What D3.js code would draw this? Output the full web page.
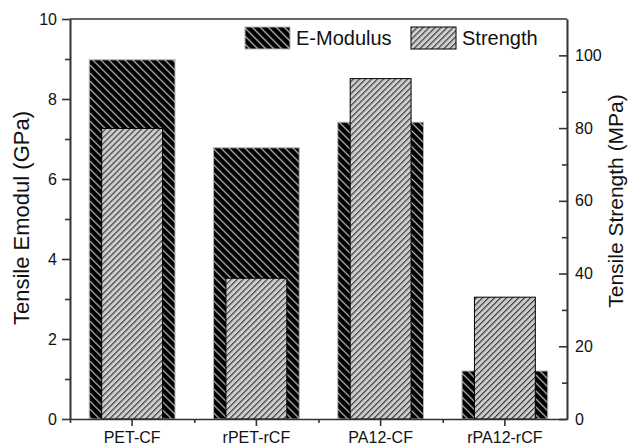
<!DOCTYPE html>
<html><head><meta charset="utf-8">
<script src="https://cdn.jsdelivr.net/npm/d3@7"></script>
<style>
html,body{margin:0;padding:0;background:#fff;}
svg{display:block;font-family:"Liberation Sans",Arial,sans-serif;}
</style></head>
<body><svg id="c" width="630" height="448"></svg>
<script>
const categories = ["PET-CF","rPET-rCF","PA12-CF","rPA12-rCF"];
const emodulus = [8.98, 6.78, 7.42, 1.2];
const strength = [79.9, 38.7, 93.6, 33.5];
const leftTicks = [0,2,4,6,8,10];
const leftMinor = [1,3,5,7,9];
const rightTicks = [0,20,40,60,80,100];
const rightMinor = [10,30,50,70,90];
const seriesNames = ["E-Modulus","Strength"];

const svg = d3.select("#c");
const L=70, R=567, T=19, B=419;
const x = d3.scaleBand().domain(categories).range([L,R]).padding(0);
const yL = d3.scaleLinear().domain([0,10]).range([B,T]);
const yR = d3.scaleLinear().domain([0,110]).range([B,T]);

const defs = svg.append("defs");
const pE = defs.append("pattern").attr("id","pE").attr("patternUnits","userSpaceOnUse")
  .attr("width",5.66).attr("height",5.66).attr("patternTransform","rotate(-45)");
pE.append("rect").attr("width",5.66).attr("height",5.66).attr("fill","#000");
pE.append("line").attr("x1",0.6).attr("x2",0.6).attr("y1",0).attr("y2",5.66).attr("stroke","#d0d0d0").attr("stroke-width",1.1);
const pS = defs.append("pattern").attr("id","pS").attr("patternUnits","userSpaceOnUse")
  .attr("width",4.24).attr("height",4.24).attr("patternTransform","rotate(45)");
pS.append("rect").attr("width",4.24).attr("height",4.24).attr("fill","#cdcdcd");
pS.append("line").attr("x1",0.6).attr("x2",0.6).attr("y1",0).attr("y2",4.24).attr("stroke","#222").attr("stroke-width",1);

const bw = x.bandwidth();
const wE = bw*0.69, wS = bw*0.49;
svg.append("g").selectAll("rect").data(categories).join("rect")
  .attr("x",d=>x(d)+bw/2-wE/2).attr("width",wE)
  .attr("y",(d,i)=>yL(emodulus[i])).attr("height",(d,i)=>B-yL(emodulus[i]))
  .attr("fill","url(#pE)").attr("stroke","#b4b4b4").attr("stroke-width",1);
svg.append("g").selectAll("rect").data(categories).join("rect")
  .attr("x",d=>x(d)+bw/2-wS/2).attr("width",wS)
  .attr("y",(d,i)=>yR(strength[i])).attr("height",(d,i)=>B-yR(strength[i]))
  .attr("fill","url(#pS)").attr("stroke","#000").attr("stroke-width",1);

const axCol="#333";
function style(g){g.selectAll("path,line").attr("stroke",axCol).attr("stroke-width",1.6);
  g.selectAll("text").attr("font-size",16).attr("fill","#111").attr("font-family","Liberation Sans, Arial, sans-serif");}

// left axis
svg.append("g").attr("transform",`translate(${L},0)`)
  .call(d3.axisLeft(yL).tickValues(leftMinor).tickSize(5).tickFormat("").tickSizeOuter(0)).call(style);
svg.append("g").attr("transform",`translate(${L},0)`)
  .call(d3.axisLeft(yL).tickValues(leftTicks).tickSize(8).tickPadding(5).tickSizeOuter(0)).call(style);
// right axis (ticks inward)
svg.append("g").attr("transform",`translate(${R},0)`)
  .call(d3.axisRight(yR).tickValues(rightMinor).tickSize(-5).tickFormat("").tickSizeOuter(0)).call(style);
svg.append("g").attr("transform",`translate(${R},0)`)
  .call(d3.axisRight(yR).tickValues(rightTicks).tickSize(-8).tickPadding(8).tickSizeOuter(0)).call(style);
// bottom axis
svg.append("g").attr("transform",`translate(0,${B})`)
  .call(d3.axisBottom(x).tickSize(7).tickPadding(6).tickSizeOuter(0)).call(style);
const xm = d3.scaleLinear().domain([0,4]).range([L,R]);
svg.append("g").attr("transform",`translate(0,${B})`)
  .call(d3.axisBottom(xm).tickValues([0,1,2,3]).tickSize(4).tickFormat("").tickSizeOuter(0))
  .call(style).select(".domain").remove();
// top border
svg.append("line").attr("x1",L).attr("x2",R).attr("y1",T).attr("y2",T).attr("stroke",axCol).attr("stroke-width",1.6);

// axis titles
svg.append("text").attr("transform","translate(29,218) rotate(-90)").attr("text-anchor","middle")
  .attr("font-size",22).attr("fill","#111").text("Tensile Emodul (GPa)");
svg.append("text").attr("transform","translate(623,201) rotate(-90)").attr("text-anchor","middle")
  .attr("font-size",21).attr("fill","#111").text("Tensile Strength (MPa)");

// legend
const leg = [{x:245,fill:"url(#pE)",stroke:"#b4b4b4"},{x:411,fill:"url(#pS)",stroke:"#000"}];
const lg = svg.append("g");
lg.selectAll("rect").data(leg).join("rect").attr("x",d=>d.x).attr("y",27).attr("width",45).attr("height",22)
  .attr("fill",d=>d.fill).attr("stroke",d=>d.stroke).attr("stroke-width",1);
lg.selectAll("text").data(leg).join("text").attr("x",d=>d.x+51).attr("y",45)
  .attr("font-size",20).attr("fill","#111").text((d,i)=>seriesNames[i]);
</script></body></html>
